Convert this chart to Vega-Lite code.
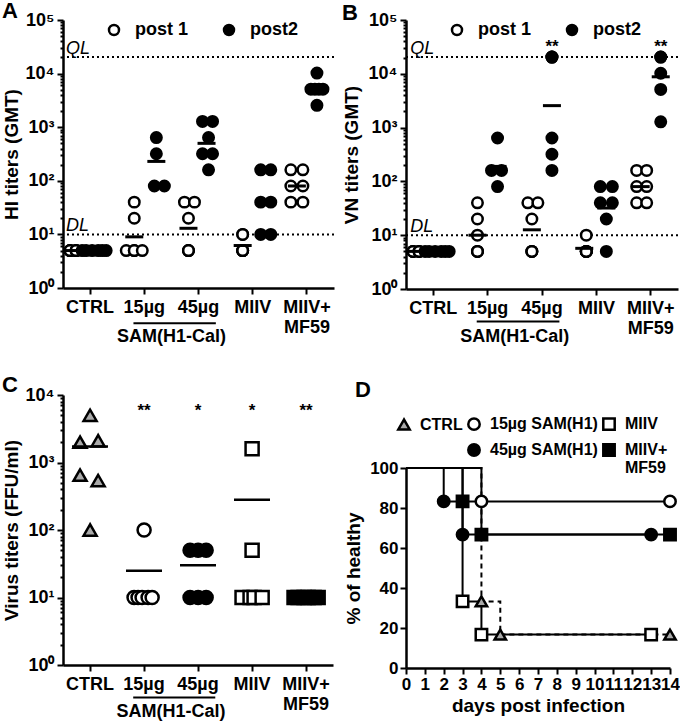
{
 "$schema": "https://vega.github.io/schema/vega-lite/v6.json",
 "padding": {"left": 2, "top": 0, "right": 0, "bottom": 0},
 "background": "white",
 "config": {
  "view": {"stroke": null},
  "font": "Liberation Sans",
  "title": {"font": "Liberation Sans", "fontWeight": "bold", "color": "black"},
  "axis": {"labelFont": "Liberation Sans", "labelFontWeight": "bold", "labelColor": "black", "labelFontSize": 18, "titleFont": "Liberation Sans", "titleFontWeight": "bold", "titleColor": "black", "titleFontSize": 19, "domainColor": "black", "domainWidth": 2.5, "tickColor": "black", "tickWidth": 2, "grid": false},
  "axisBand": {"labelPadding": 4, "tickSize": 6, "ticks": true, "tickBand": "center", "bandPosition": 0.5, "labelAngle": 0, "labelLineHeight": 20},
  "legend": {"labelFont": "Liberation Sans", "labelFontWeight": "bold", "labelColor": "black"}
 },
 "datasets": {
  "aPts": [
   {"g":"CTRL","s":"post 1","v":5,"k":-10},{"g":"CTRL","s":"post 1","v":5,"k":-10},{"g":"CTRL","s":"post 1","v":5,"k":-10},
   {"g":"CTRL","s":"post 1","v":5,"k":-7},{"g":"CTRL","s":"post 1","v":5,"k":-7},{"g":"CTRL","s":"post 1","v":5,"k":-7},
   {"g":"15µg","s":"post 1","v":40,"k":-5},{"g":"15µg","s":"post 1","v":20,"k":-5},{"g":"15µg","s":"post 1","v":5,"k":-9},
   {"g":"15µg","s":"post 1","v":5,"k":-5},{"g":"15µg","s":"post 1","v":5,"k":-5},{"g":"15µg","s":"post 1","v":5,"k":-1},
   {"g":"45µg","s":"post 1","v":40,"k":-7},{"g":"45µg","s":"post 1","v":40,"k":-2},{"g":"45µg","s":"post 1","v":20,"k":-5},
   {"g":"45µg","s":"post 1","v":5,"k":-5},{"g":"45µg","s":"post 1","v":5,"k":-5},{"g":"45µg","s":"post 1","v":5,"k":-5},
   {"g":"MIIV","s":"post 1","v":10,"k":-5},{"g":"MIIV","s":"post 1","v":10,"k":-5},{"g":"MIIV","s":"post 1","v":5,"k":-5},
   {"g":"MIIV","s":"post 1","v":5,"k":-5},{"g":"MIIV","s":"post 1","v":5,"k":-5},{"g":"MIIV","s":"post 1","v":5,"k":-5},
   {"g":"MIIV+MF59","s":"post 1","v":160,"k":-8},{"g":"MIIV+MF59","s":"post 1","v":160,"k":-2},{"g":"MIIV+MF59","s":"post 1","v":80,"k":-8},
   {"g":"MIIV+MF59","s":"post 1","v":80,"k":-2},{"g":"MIIV+MF59","s":"post 1","v":40,"k":-8},{"g":"MIIV+MF59","s":"post 1","v":40,"k":-2},
   {"g":"CTRL","s":"post2","v":5,"k":-4},{"g":"CTRL","s":"post2","v":5,"k":-2},{"g":"CTRL","s":"post2","v":5,"k":1},
   {"g":"CTRL","s":"post2","v":5,"k":4},{"g":"CTRL","s":"post2","v":5,"k":6},{"g":"CTRL","s":"post2","v":5,"k":8},
   {"g":"15µg","s":"post2","v":640,"k":6},{"g":"15µg","s":"post2","v":320,"k":6},{"g":"15µg","s":"post2","v":80,"k":5},{"g":"15µg","s":"post2","v":80,"k":10},
   {"g":"45µg","s":"post2","v":1280,"k":2},{"g":"45µg","s":"post2","v":1280,"k":7},{"g":"45µg","s":"post2","v":640,"k":5},
   {"g":"45µg","s":"post2","v":320,"k":2},{"g":"45µg","s":"post2","v":320,"k":7},{"g":"45µg","s":"post2","v":160,"k":5},
   {"g":"MIIV","s":"post2","v":160,"k":4},{"g":"MIIV","s":"post2","v":160,"k":9},{"g":"MIIV","s":"post2","v":40,"k":4},
   {"g":"MIIV","s":"post2","v":40,"k":9},{"g":"MIIV","s":"post2","v":10,"k":4},{"g":"MIIV","s":"post2","v":10,"k":9},
   {"g":"MIIV+MF59","s":"post2","v":10240,"k":5},{"g":"MIIV+MF59","s":"post2","v":5120,"k":2},{"g":"MIIV+MF59","s":"post2","v":5120,"k":4},
   {"g":"MIIV+MF59","s":"post2","v":5120,"k":6},{"g":"MIIV+MF59","s":"post2","v":5120,"k":8},{"g":"MIIV+MF59","s":"post2","v":2560,"k":5}
  ],
  "aMeans": [
   {"g":"CTRL","s":"post 1","v":5,"k":-8},{"g":"CTRL","s":"post2","v":5,"k":2},
   {"g":"15µg","s":"post 1","v":9,"k":-5},{"g":"15µg","s":"post2","v":230,"k":6},
   {"g":"45µg","s":"post 1","v":13,"k":-5},{"g":"45µg","s":"post2","v":500,"k":4},
   {"g":"MIIV","s":"post 1","v":6.2,"k":-5},{"g":"MIIV","s":"post2","v":40,"k":6},
   {"g":"MIIV+MF59","s":"post 1","v":80,"k":-5},{"g":"MIIV+MF59","s":"post2","v":5120,"k":5}
  ],
  "bPts": [
   {"g":"CTRL","s":"post 1","v":5,"k":-10},{"g":"CTRL","s":"post 1","v":5,"k":-10},{"g":"CTRL","s":"post 1","v":5,"k":-10},
   {"g":"CTRL","s":"post 1","v":5,"k":-7},{"g":"CTRL","s":"post 1","v":5,"k":-7},{"g":"CTRL","s":"post 1","v":5,"k":-7},
   {"g":"15µg","s":"post 1","v":40,"k":-5},{"g":"15µg","s":"post 1","v":20,"k":-5},{"g":"15µg","s":"post 1","v":10,"k":-5},
   {"g":"15µg","s":"post 1","v":5,"k":-5},{"g":"15µg","s":"post 1","v":5,"k":-5},{"g":"15µg","s":"post 1","v":5,"k":-5},
   {"g":"45µg","s":"post 1","v":40,"k":-7},{"g":"45µg","s":"post 1","v":40,"k":-2},{"g":"45µg","s":"post 1","v":20,"k":-5},
   {"g":"45µg","s":"post 1","v":5,"k":-5},{"g":"45µg","s":"post 1","v":5,"k":-5},{"g":"45µg","s":"post 1","v":5,"k":-5},
   {"g":"MIIV","s":"post 1","v":10,"k":-5},{"g":"MIIV","s":"post 1","v":5,"k":-5},{"g":"MIIV","s":"post 1","v":5,"k":-5},
   {"g":"MIIV","s":"post 1","v":5,"k":-5},{"g":"MIIV","s":"post 1","v":5,"k":-5},{"g":"MIIV","s":"post 1","v":5,"k":-5},
   {"g":"MIIV+MF59","s":"post 1","v":160,"k":-7},{"g":"MIIV+MF59","s":"post 1","v":160,"k":-2},{"g":"MIIV+MF59","s":"post 1","v":80,"k":-7},
   {"g":"MIIV+MF59","s":"post 1","v":80,"k":-2},{"g":"MIIV+MF59","s":"post 1","v":40,"k":-7},{"g":"MIIV+MF59","s":"post 1","v":40,"k":-2},
   {"g":"CTRL","s":"post2","v":5,"k":-4},{"g":"CTRL","s":"post2","v":5,"k":-2},{"g":"CTRL","s":"post2","v":5,"k":1},
   {"g":"CTRL","s":"post2","v":5,"k":4},{"g":"CTRL","s":"post2","v":5,"k":6},{"g":"CTRL","s":"post2","v":5,"k":8},
   {"g":"15µg","s":"post2","v":640,"k":5},{"g":"15µg","s":"post2","v":160,"k":2},{"g":"15µg","s":"post2","v":160,"k":7},{"g":"15µg","s":"post2","v":80,"k":5},
   {"g":"45µg","s":"post2","v":20480,"k":5},{"g":"45µg","s":"post2","v":20480,"k":5},{"g":"45µg","s":"post2","v":20480,"k":5},
   {"g":"45µg","s":"post2","v":640,"k":5},{"g":"45µg","s":"post2","v":320,"k":5},{"g":"45µg","s":"post2","v":160,"k":5},
   {"g":"MIIV","s":"post2","v":80,"k":2},{"g":"MIIV","s":"post2","v":80,"k":8},{"g":"MIIV","s":"post2","v":40,"k":2},
   {"g":"MIIV","s":"post2","v":40,"k":8},{"g":"MIIV","s":"post2","v":20,"k":5},{"g":"MIIV","s":"post2","v":5,"k":5},
   {"g":"MIIV+MF59","s":"post2","v":20480,"k":5},{"g":"MIIV+MF59","s":"post2","v":20480,"k":5},{"g":"MIIV+MF59","s":"post2","v":10240,"k":5},
   {"g":"MIIV+MF59","s":"post2","v":5120,"k":5},{"g":"MIIV+MF59","s":"post2","v":1280,"k":5}
  ],
  "bMeans": [
   {"g":"CTRL","s":"post 1","v":5,"k":-8},{"g":"CTRL","s":"post2","v":5,"k":2},
   {"g":"15µg","s":"post 1","v":10,"k":-5},{"g":"15µg","s":"post2","v":190,"k":5},
   {"g":"45µg","s":"post 1","v":12.6,"k":-5},{"g":"45µg","s":"post2","v":2560,"k":5},
   {"g":"MIIV","s":"post 1","v":5.7,"k":-6},{"g":"MIIV","s":"post2","v":32,"k":5},
   {"g":"MIIV+MF59","s":"post 1","v":80,"k":-5},{"g":"MIIV+MF59","s":"post2","v":8800,"k":5}
  ],
  "cPts": [
   {"g":"CTRL","v":5000,"k":0},{"g":"CTRL","v":2000,"k":-5},{"g":"CTRL","v":2100,"k":4},
   {"g":"CTRL","v":650,"k":-5},{"g":"CTRL","v":540,"k":4},{"g":"CTRL","v":100,"k":0},
   {"g":"15µg","v":100,"k":0},{"g":"15µg","v":10,"k":-5},{"g":"15µg","v":10,"k":-3},
   {"g":"15µg","v":10,"k":-1},{"g":"15µg","v":10,"k":2},{"g":"15µg","v":10,"k":4},
   {"g":"45µg","v":50,"k":-4},{"g":"45µg","v":50,"k":0},{"g":"45µg","v":50,"k":4},
   {"g":"45µg","v":10,"k":-4},{"g":"45µg","v":10,"k":0},{"g":"45µg","v":10,"k":4},
   {"g":"MIIV","v":1600,"k":0},{"g":"MIIV","v":50,"k":0},{"g":"MIIV","v":10,"k":-5},
   {"g":"MIIV","v":10,"k":-1},{"g":"MIIV","v":10,"k":1},{"g":"MIIV","v":10,"k":5},
   {"g":"MIIV+MF59","v":10,"k":-6},{"g":"MIIV+MF59","v":10,"k":-4},{"g":"MIIV+MF59","v":10,"k":-1},
   {"g":"MIIV+MF59","v":10,"k":1},{"g":"MIIV+MF59","v":10,"k":4},{"g":"MIIV+MF59","v":10,"k":6}
  ],
  "cMeans": [
   {"g":"CTRL","v":1730},{"g":"15µg","v":25},{"g":"45µg","v":30},{"g":"MIIV","v":280},{"g":"MIIV+MF59","v":10}
  ],
  "dSurv": [
   {"grp":"CTRL","day":0,"pct":100},{"grp":"CTRL","day":4,"pct":33.3},{"grp":"CTRL","day":5,"pct":16.7},{"grp":"CTRL","day":14,"pct":16.7},
   {"grp":"15µg SAM(H1)","day":0,"pct":100},{"grp":"15µg SAM(H1)","day":4,"pct":83.3},{"grp":"15µg SAM(H1)","day":14,"pct":83.3},
   {"grp":"45µg SAM(H1)","day":0,"pct":100},{"grp":"45µg SAM(H1)","day":2,"pct":83.3},{"grp":"45µg SAM(H1)","day":3,"pct":66.7},{"grp":"45µg SAM(H1)","day":13,"pct":66.7},
   {"grp":"MIIV","day":0,"pct":100},{"grp":"MIIV","day":3,"pct":33.3},{"grp":"MIIV","day":4,"pct":16.7},{"grp":"MIIV","day":13,"pct":16.7},
   {"grp":"MIIV+MF59","day":0,"pct":100},{"grp":"MIIV+MF59","day":3,"pct":83.3},{"grp":"MIIV+MF59","day":4,"pct":66.7},{"grp":"MIIV+MF59","day":14,"pct":66.7}
  ]
 },
 "spacing": 7,
 "resolve": {"scale": {"fill": "independent", "shape": "independent", "stroke": "independent"}, "legend": {"fill": "independent", "shape": "independent", "stroke": "independent"}},
 "hconcat": [
  {
   "spacing": 28,
   "resolve": {"scale": {"fill": "independent", "shape": "independent", "stroke": "independent"}, "legend": {"fill": "independent", "shape": "independent", "stroke": "independent"}},
   "vconcat": [
    {
     "width": 271, "height": 268,
     "title": {"text": "A", "anchor": "start", "frame": "bounds", "fontSize": 22, "offset": -12},
     "layer": [
      {"data": {"values": [{}]}, "mark": {"type": "rule", "strokeDash": [2, 3], "strokeWidth": 2, "color": "black"}, "encoding": {"y": {"datum": 20480, "type": "quantitative"}}},
      {"data": {"values": [{}]}, "mark": {"type": "rule", "strokeDash": [2, 3], "strokeWidth": 2, "color": "black"}, "encoding": {"y": {"datum": 10, "type": "quantitative"}}},
      {"data": {"values": [{}]}, "mark": {"type": "text", "text": "QL", "align": "left", "baseline": "alphabetic", "dx": -24, "dy": -3, "fontStyle": "italic", "fontSize": 18, "color": "black"}, "encoding": {"x": {"datum": "CTRL", "type": "nominal"}, "y": {"datum": 20480, "type": "quantitative"}}},
      {"data": {"values": [{}]}, "mark": {"type": "text", "text": "DL", "align": "left", "baseline": "alphabetic", "dx": -24, "dy": -3, "fontStyle": "italic", "fontSize": 18, "color": "black"}, "encoding": {"x": {"datum": "CTRL", "type": "nominal"}, "y": {"datum": 10, "type": "quantitative"}}},
      {
       "data": {"name": "aPts"},
       "mark": {"type": "point", "filled": true, "opacity": 1, "shape": "circle", "size": 110, "stroke": "black", "strokeWidth": 2.5},
       "encoding": {
        "x": {"field": "g", "type": "nominal", "scale": {"domain": ["CTRL", "15µg", "45µg", "MIIV", "MIIV+MF59"], "paddingInner": 0, "paddingOuter": 0},
              "axis": {"title": null, "labelExpr": "datum.label == 'MIIV+MF59' ? ['MIIV+', 'MF59'] : datum.label"}},
        "xOffset": {"field": "k", "type": "ordinal", "scale": {"domain": [-13,-12,-11,-10,-9,-8,-7,-6,-5,-4,-3,-2,-1,0,1,2,3,4,5,6,7,8,9,10,11,12,13], "paddingInner": 0, "paddingOuter": 0}},
        "y": {"field": "v", "type": "quantitative", "scale": {"type": "log", "domain": [1, 100000], "nice": false},
              "axis": {"title": "HI titers (GMT)", "values": [1,2,3,4,5,6,7,8,9,10,20,30,40,50,60,70,80,90,100,200,300,400,500,600,700,800,900,1000,2000,3000,4000,5000,6000,7000,8000,9000,10000,20000,30000,40000,50000,60000,70000,80000,90000,100000],
                       "labelExpr": "datum.value==1?'10⁰':datum.value==10?'10¹':datum.value==100?'10²':datum.value==1000?'10³':datum.value==10000?'10⁴':datum.value==100000?'10⁵':''",
                       "tickSize": {"condition": {"test": "indexof([1,10,100,1000,10000,100000], datum.value) >= 0", "value": 6}, "value": 3},
                       "labelOverlap": false, "labelFlush": false, "labelBound": false, "labelPadding": 3, "titlePadding": 4}},
        "fill": {"field": "s", "type": "nominal", "scale": {"domain": ["post 1", "post2"], "range": ["white", "black"]},
                 "legend": {"title": null, "orient": "none", "legendX": 42, "legendY": 1, "direction": "horizontal", "symbolType": "circle", "symbolSize": 100, "symbolStrokeColor": "black", "symbolStrokeWidth": 2.5, "labelFontSize": 18, "columnPadding": 30, "labelOffset": 12}}
       }
      },
      {
       "data": {"name": "aMeans"},
       "mark": {"type": "tick", "color": "black", "opacity": 1, "size": 18, "thickness": 3},
       "encoding": {"x": {"field": "g", "type": "nominal"}, "xOffset": {"field": "k", "type": "ordinal"}, "y": {"field": "v", "type": "quantitative"}}
      },
      {"data": {"values": [{}]}, "mark": {"type": "rule", "strokeWidth": 2, "color": "black"}, "encoding": {"x": {"datum": "15µg", "type": "nominal", "bandPosition": 0.3}, "x2": {"datum": "45µg", "bandPosition": 0.82}, "y": {"datum": 0.22, "type": "quantitative"}}},
      {"data": {"values": [{}]}, "mark": {"type": "text", "text": "SAM(H1-Cal)", "align": "center", "baseline": "middle", "fontSize": 18, "fontWeight": "bold", "color": "black"}, "encoding": {"x": {"datum": "15µg", "type": "nominal", "bandPosition": 1}, "y": {"datum": 0.122, "type": "quantitative"}}}
     ]
    },
    {
     "width": 270, "height": 270,
     "title": {"text": "C", "anchor": "start", "frame": "bounds", "fontSize": 22, "offset": -11},
     "layer": [
      {
       "data": {"name": "cPts"},
       "mark": {"type": "point", "filled": true, "opacity": 1, "size": 170, "stroke": "black", "strokeWidth": 2.5},
       "encoding": {
        "x": {"field": "g", "type": "nominal", "scale": {"domain": ["CTRL", "15µg", "45µg", "MIIV", "MIIV+MF59"], "paddingInner": 0, "paddingOuter": 0},
              "axis": {"title": null, "labelExpr": "datum.label == 'MIIV+MF59' ? ['MIIV+', 'MF59'] : datum.label"}},
        "xOffset": {"field": "k", "type": "ordinal", "scale": {"domain": [-13,-12,-11,-10,-9,-8,-7,-6,-5,-4,-3,-2,-1,0,1,2,3,4,5,6,7,8,9,10,11,12,13], "paddingInner": 0, "paddingOuter": 0}},
        "y": {"field": "v", "type": "quantitative", "scale": {"type": "log", "domain": [1, 10000], "nice": false},
              "axis": {"title": "Virus titers (FFU/ml)", "values": [1,2,3,4,5,6,7,8,9,10,20,30,40,50,60,70,80,90,100,200,300,400,500,600,700,800,900,1000,2000,3000,4000,5000,6000,7000,8000,9000,10000],
                       "labelExpr": "datum.value==1?'10⁰':datum.value==10?'10¹':datum.value==100?'10²':datum.value==1000?'10³':datum.value==10000?'10⁴':''",
                       "tickSize": {"condition": {"test": "indexof([1,10,100,1000,10000], datum.value) >= 0", "value": 6}, "value": 3},
                       "labelOverlap": false, "labelFlush": false, "labelBound": false, "labelPadding": 3, "titlePadding": 4}},
        "shape": {"field": "g", "type": "nominal", "scale": {"domain": ["CTRL", "15µg", "45µg", "MIIV", "MIIV+MF59"], "range": ["triangle-up", "circle", "circle", "square", "square"]}, "legend": null},
        "fill": {"field": "g", "type": "nominal", "scale": {"domain": ["CTRL", "15µg", "45µg", "MIIV", "MIIV+MF59"], "range": ["#aaaaaa", "white", "black", "white", "black"]}, "legend": null}
       }
      },
      {
       "data": {"name": "cMeans"},
       "mark": {"type": "tick", "color": "black", "opacity": 1, "size": 36, "thickness": 2.5},
       "encoding": {"x": {"field": "g", "type": "nominal"}, "y": {"field": "v", "type": "quantitative"}}
      },
      {
       "data": {"values": [{"g": "15µg", "t": "**"}, {"g": "45µg", "t": "*"}, {"g": "MIIV", "t": "*"}, {"g": "MIIV+MF59", "t": "**"}]},
       "mark": {"type": "text", "align": "center", "baseline": "alphabetic", "dy": 21, "fontSize": 17, "fontWeight": "bold", "color": "black"},
       "encoding": {"x": {"field": "g", "type": "nominal"}, "y": {"datum": 10000, "type": "quantitative"}, "text": {"field": "t"}}
      },
      {"data": {"values": [{}]}, "mark": {"type": "rule", "strokeWidth": 2, "color": "black"}, "encoding": {"x": {"datum": "15µg", "type": "nominal", "bandPosition": 0.3}, "x2": {"datum": "45µg", "bandPosition": 0.82}, "y": {"datum": 0.33, "type": "quantitative"}}},
      {"data": {"values": [{}]}, "mark": {"type": "text", "text": "SAM(H1-Cal)", "align": "center", "baseline": "middle", "fontSize": 18, "fontWeight": "bold", "color": "black"}, "encoding": {"x": {"datum": "15µg", "type": "nominal", "bandPosition": 1}, "y": {"datum": 0.2, "type": "quantitative"}}}
     ]
    }
   ]
  },
  {
   "spacing": 33,
   "resolve": {"scale": {"fill": "independent", "shape": "independent", "stroke": "independent"}, "legend": {"fill": "independent", "shape": "independent", "stroke": "independent"}},
   "vconcat": [
    {
     "width": 272, "height": 269,
     "title": {"text": "B", "anchor": "start", "frame": "bounds", "fontSize": 22, "offset": -14},
     "layer": [
      {"data": {"values": [{}]}, "mark": {"type": "rule", "strokeDash": [2, 3], "strokeWidth": 2, "color": "black"}, "encoding": {"y": {"datum": 20480, "type": "quantitative"}}},
      {"data": {"values": [{}]}, "mark": {"type": "rule", "strokeDash": [2, 3], "strokeWidth": 2, "color": "black"}, "encoding": {"y": {"datum": 10, "type": "quantitative"}}},
      {"data": {"values": [{}]}, "mark": {"type": "text", "text": "QL", "align": "left", "baseline": "alphabetic", "dx": -23, "dy": -3, "fontStyle": "italic", "fontSize": 18, "color": "black"}, "encoding": {"x": {"datum": "CTRL", "type": "nominal"}, "y": {"datum": 20480, "type": "quantitative"}}},
      {"data": {"values": [{}]}, "mark": {"type": "text", "text": "DL", "align": "left", "baseline": "alphabetic", "dx": -23, "dy": -3, "fontStyle": "italic", "fontSize": 18, "color": "black"}, "encoding": {"x": {"datum": "CTRL", "type": "nominal"}, "y": {"datum": 10, "type": "quantitative"}}},
      {
       "data": {"name": "bPts"},
       "mark": {"type": "point", "filled": true, "opacity": 1, "shape": "circle", "size": 110, "stroke": "black", "strokeWidth": 2.5},
       "encoding": {
        "x": {"field": "g", "type": "nominal", "scale": {"domain": ["CTRL", "15µg", "45µg", "MIIV", "MIIV+MF59"], "paddingInner": 0, "paddingOuter": 0},
              "axis": {"title": null, "labelExpr": "datum.label == 'MIIV+MF59' ? ['MIIV+', 'MF59'] : datum.label"}},
        "xOffset": {"field": "k", "type": "ordinal", "scale": {"domain": [-13,-12,-11,-10,-9,-8,-7,-6,-5,-4,-3,-2,-1,0,1,2,3,4,5,6,7,8,9,10,11,12,13], "paddingInner": 0, "paddingOuter": 0}},
        "y": {"field": "v", "type": "quantitative", "scale": {"type": "log", "domain": [1, 100000], "nice": false},
              "axis": {"title": "VN titers (GMT)", "values": [1,2,3,4,5,6,7,8,9,10,20,30,40,50,60,70,80,90,100,200,300,400,500,600,700,800,900,1000,2000,3000,4000,5000,6000,7000,8000,9000,10000,20000,30000,40000,50000,60000,70000,80000,90000,100000],
                       "labelExpr": "datum.value==1?'10⁰':datum.value==10?'10¹':datum.value==100?'10²':datum.value==1000?'10³':datum.value==10000?'10⁴':datum.value==100000?'10⁵':''",
                       "tickSize": {"condition": {"test": "indexof([1,10,100,1000,10000,100000], datum.value) >= 0", "value": 6}, "value": 3},
                       "labelOverlap": false, "labelFlush": false, "labelBound": false, "labelPadding": 3, "titlePadding": 7}},
        "fill": {"field": "s", "type": "nominal", "scale": {"domain": ["post 1", "post2"], "range": ["white", "black"]},
                 "legend": {"title": null, "orient": "none", "legendX": 42, "legendY": 1, "direction": "horizontal", "symbolType": "circle", "symbolSize": 100, "symbolStrokeColor": "black", "symbolStrokeWidth": 2.5, "labelFontSize": 18, "columnPadding": 30, "labelOffset": 12}}
       }
      },
      {
       "data": {"name": "bMeans"},
       "mark": {"type": "tick", "color": "black", "opacity": 1, "size": 18, "thickness": 3},
       "encoding": {"x": {"field": "g", "type": "nominal"}, "xOffset": {"field": "k", "type": "ordinal"}, "y": {"field": "v", "type": "quantitative"}}
      },
      {
       "data": {"values": [{"g": "45µg"}, {"g": "MIIV+MF59"}]},
       "mark": {"type": "text", "text": "**", "align": "center", "baseline": "alphabetic", "dx": 10, "dy": -5, "fontSize": 17, "fontWeight": "bold", "color": "black"},
       "encoding": {"x": {"field": "g", "type": "nominal"}, "y": {"datum": 20480, "type": "quantitative"}}
      },
      {"data": {"values": [{}]}, "mark": {"type": "rule", "strokeWidth": 2, "color": "black"}, "encoding": {"x": {"datum": "15µg", "type": "nominal", "bandPosition": 0.3}, "x2": {"datum": "45µg", "bandPosition": 0.82}, "y": {"datum": 0.25, "type": "quantitative"}}},
      {"data": {"values": [{}]}, "mark": {"type": "text", "text": "SAM(H1-Cal)", "align": "center", "baseline": "middle", "fontSize": 18, "fontWeight": "bold", "color": "black"}, "encoding": {"x": {"datum": "15µg", "type": "nominal", "bandPosition": 1}, "y": {"datum": 0.13, "type": "quantitative"}}}
     ]
    },
    {
     "width": 264, "height": 200,
     "title": {"text": "D", "anchor": "start", "frame": "group", "dx": -51, "fontSize": 22, "offset": 14},
     "data": {"name": "dSurv"},
     "encoding": {
      "x": {"field": "day", "type": "quantitative", "scale": {"domain": [0, 14], "nice": false, "zero": false},
            "axis": {"title": "days post infection", "values": [0,1,2,3,4,5,6,7,8,9,10,11,12,13,14], "labelFontSize": 17, "tickSize": 6, "labelPadding": 2, "titlePadding": 4, "labelFlush": false, "labelOverlap": false}},
      "y": {"field": "pct", "type": "quantitative", "scale": {"domain": [0, 100], "nice": false},
            "axis": {"title": "% of healthy", "values": [0,20,40,60,80,100], "labelFontSize": 17, "tickSize": 6, "labelPadding": 2, "titlePadding": 6, "labelFlush": false, "labelOverlap": false}}
     },
     "layer": [
      {
       "mark": {"type": "line", "interpolate": "step-after", "color": "black", "strokeWidth": 2},
       "encoding": {
        "detail": {"field": "grp"},
        "strokeDash": {"condition": {"test": "datum.grp === 'CTRL'", "value": [5, 4]}, "value": [1, 0]}
       }
      },
      {
       "transform": [{"filter": "datum.day > 0"}],
       "mark": {"type": "point", "filled": true, "opacity": 1, "size": 130, "strokeWidth": 2.5},
       "encoding": {
        "shape": {"field": "grp", "type": "nominal", "scale": {"domain": ["CTRL", "15µg SAM(H1)", "MIIV", "blank", "45µg SAM(H1)", "MIIV+MF59"], "range": ["triangle-up", "circle", "square", "circle", "circle", "square"]},
                  "legend": {"title": null, "orient": "none", "legendX": -10, "legendY": -52, "direction": "horizontal", "columns": 3, "columnPadding": 0, "rowPadding": 4, "symbolSize": 130, "symbolStrokeWidth": 2.5, "labelFontSize": 16, "labelOffset": 8, "labelLineHeight": 18,
                             "labelExpr": "datum.label == 'blank' ? '' : datum.label == 'MIIV+MF59' ? ['MIIV+', 'MF59'] : datum.label"}},
        "fill": {"field": "grp", "type": "nominal", "scale": {"domain": ["CTRL", "15µg SAM(H1)", "MIIV", "blank", "45µg SAM(H1)", "MIIV+MF59"], "range": ["#aaaaaa", "white", "white", "transparent", "black", "black"]}},
        "stroke": {"field": "grp", "type": "nominal", "scale": {"domain": ["CTRL", "15µg SAM(H1)", "MIIV", "blank", "45µg SAM(H1)", "MIIV+MF59"], "range": ["black", "black", "black", "transparent", "black", "black"]}}
       }
      },
      {
       "data": {"values": [{}]},
       "mark": {"type": "text", "text": "*", "align": "center", "baseline": "alphabetic", "dy": -6, "fontSize": 17, "fontWeight": "bold", "color": "black"},
       "encoding": {"x": {"datum": 14, "type": "quantitative"}, "y": {"datum": 83.3, "type": "quantitative"}}
      }
     ]
    }
   ]
  }
 ]
}
